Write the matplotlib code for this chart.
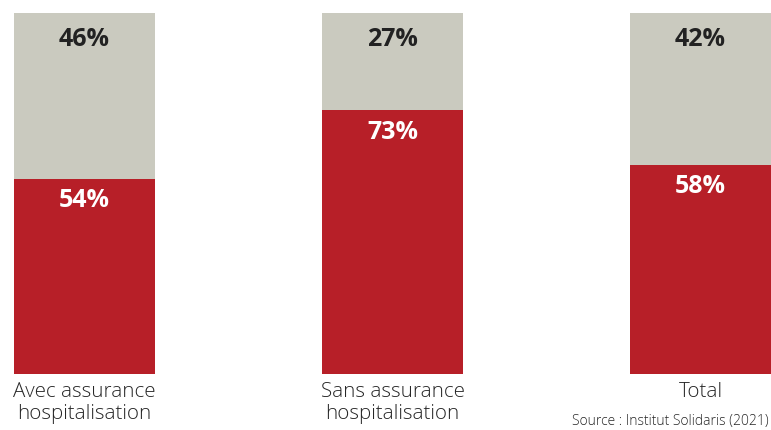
import matplotlib
matplotlib.use("Agg")
import matplotlib.pyplot as plt

categories = ["Avec assurance\nhospitalisation", "Sans assurance\nhospitalisation", "Total"]
red_values = [54, 73, 58]
gray_values = [46, 27, 42]
source = "Source : Institut Solidaris (2021)"

RED = "#B71F28"
GRAY = "#CACABF"

plt.rcParams['font.family'] = ['Open Sans', 'DejaVu Sans']

fig = plt.figure(figsize=(7.71, 4.31), dpi=100)
ax = fig.add_axes([0, (431 - 375) / 431, 1, (375 - 14) / 431])

x = list(range(len(categories)))
width = 141 / 308
ax.bar(x, red_values, width=width, color=RED, linewidth=0)
ax.bar(x, gray_values, width=width, bottom=red_values, color=GRAY, linewidth=0)

for xi, r, g in zip(x, red_values, gray_values):
    ax.text(xi, 100 - 7, f"{g}%", ha='center', va='center', fontsize=18,
            fontweight='bold', color='#222222')
    ax.text(xi, r - 5.8, f"{r}%", ha='center', va='center', fontsize=18,
            fontweight='bold', color='white')

ax.set_xlim(-84.5 / 308, (771 - 84.5) / 308)
ax.set_ylim(0, 100)
ax.set_xticks(x)
ax.set_xticklabels(categories, fontsize=14.8, color='#262626', linespacing=1.15,
                   fontweight='light')
ax.tick_params(axis='x', length=0, pad=5)
ax.set_yticks([])
for s in ax.spines.values():
    s.set_visible(False)

fig.text(769 / 771, (431 - 422) / 431, source, ha='right', va='center',
         fontsize=10, color='#262626', fontweight='light')

fig.savefig("out.png", dpi=100)
